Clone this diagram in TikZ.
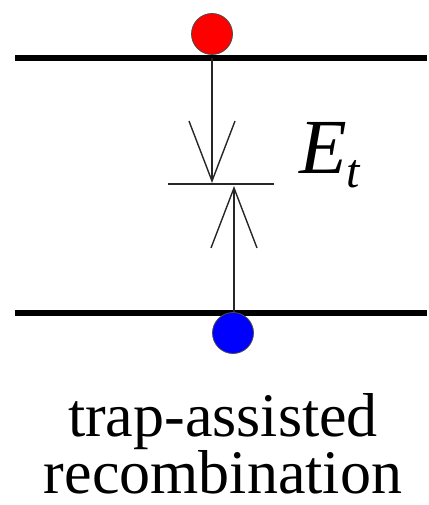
\documentclass[tikz,border=0pt]{standalone}
\usepackage{fontspec}
\setmainfont{Liberation Serif}
\usetikzlibrary{arrows.meta}
\tikzset{
  band/.style={line width=5.5pt, black},
  thin/.style={line width=1.4pt, black!85},
  carrier/.style={circle, draw=black!70, line width=0.8pt, minimum size=41pt, inner sep=0pt},
  vtip/.style={-{Straight Barb[length=60pt, width=46pt, line width=1.4pt]}},
  caption/.style={anchor=base, inner sep=0pt, align=center, font=\fontsize{62}{57}\selectfont},
}
\begin{document}
\begin{tikzpicture}[x=1pt, y=-1pt]
\useasboundingbox (0,0) rectangle (428,505);
% bands
\coordinate (cbl) at (15,58);
\coordinate (cbr) at (427,58);
\coordinate (vbl) at (15,313);
\coordinate (vbr) at (427,313);
\draw[band] (cbl) -- (cbr);
\draw[band] (vbl) -- (vbr);
% trap level
\coordinate (trl) at (168,184);
\coordinate (trr) at (274,184);
\draw[thin] (trl) -- (trr);
% arrows
\coordinate (dstart) at (212,58);
\coordinate (dtip) at (212,183);
\coordinate (ustart) at (234,313);
\coordinate (utip) at (234,186);
\draw[thin, vtip] (dstart) -- (dtip);
\draw[thin, vtip] (ustart) -- (utip);
% carriers
\node[carrier, fill=red] (e) at (212,34) {};
\node[carrier, fill=blue] (h) at (233,333) {};
% label
\node[anchor=base west, inner sep=0pt, font=\fontsize{78}{78}\selectfont\itshape] (Et) at (299,173) {E\raisebox{-0.18em}{\fontsize{48}{48}\selectfont t}};
\node[caption] (cap) at (223,493) {trap-assisted\\recombination};
\end{tikzpicture}
\end{document}
